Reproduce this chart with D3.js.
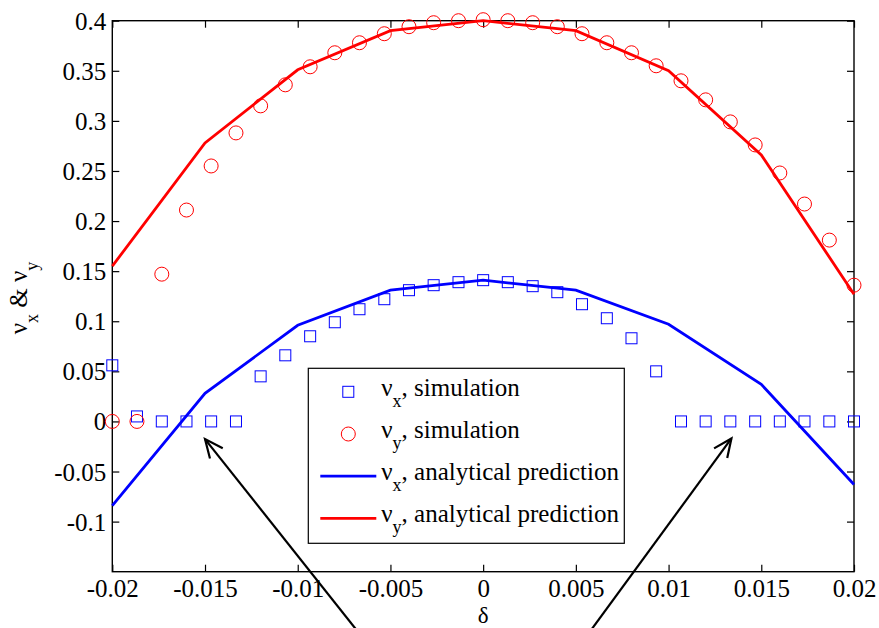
<!DOCTYPE html>
<html>
<head>
<meta charset="utf-8">
<script src="https://cdn.jsdelivr.net/npm/d3@7/dist/d3.min.js"></script>
<style>
    body { margin: 0; background: #fff; }
    text { font-family: "Liberation Serif", "Times New Roman", serif; fill: #000; }
</style>
</head>
<body>
<script>
// simulation grid (delta) and measured tune shifts
var simDelta = [-0.02, -0.01867, -0.01733, -0.016, -0.01467, -0.01333, -0.012, -0.01067,
    -0.00933, -0.008, -0.00667, -0.00533, -0.004, -0.00267, -0.00133, 0,
    0.00133, 0.00267, 0.004, 0.00533, 0.00667, 0.008, 0.00933, 0.01067,
    0.012, 0.01333, 0.01467, 0.016, 0.01733, 0.01867, 0.02];
var nuxSim = [0.056, 0.005, 0, 0, 0, 0, 0.045, 0.066, 0.085, 0.099, 0.112, 0.122, 0.131, 0.136, 0.139,
    0.141, 0.139, 0.135, 0.129, 0.117, 0.103, 0.083, 0.050, 0, 0, 0, 0, 0, 0, 0, 0];
var nuySim = [0, 0, 0.147, 0.211, 0.255, 0.288, 0.315, 0.336, 0.354, 0.368, 0.378, 0.387, 0.394, 0.398, 0.400,
    0.401, 0.400, 0.398, 0.394, 0.387, 0.378, 0.368, 0.355, 0.340, 0.321, 0.299, 0.276, 0.248, 0.217, 0.181, 0.136];

// analytical prediction
var predDelta = [-0.02, -0.015, -0.01, -0.005, 0, 0.005, 0.01, 0.015, 0.02];
var nuxPred = [-0.084, 0.028, 0.096, 0.131, 0.141, 0.131, 0.097, 0.037, -0.063];
var nuyPred = [0.155, 0.278, 0.351, 0.390, 0.400, 0.390, 0.350, 0.266, 0.127];

var xTicks = [-0.02, -0.015, -0.01, -0.005, 0, 0.005, 0.01, 0.015, 0.02];
var yTicks = [-0.1, -0.05, 0, 0.05, 0.1, 0.15, 0.2, 0.25, 0.3, 0.35, 0.4];

// annotation arrows, in data units: [tail, tip]
var arrows = [
    [[-0.00675, -0.21], [-0.015, -0.0176]],
    [[0.00575, -0.21], [0.01339, -0.0170]]
];

var legendItems = [
    { sub: "x", label: ", simulation", kind: "square", color: "#0000ff" },
    { sub: "y", label: ", simulation", kind: "circle", color: "#ff0000" },
    { sub: "x", label: ", analytical prediction", kind: "line", color: "#0000ff" },
    { sub: "y", label: ", analytical prediction", kind: "line", color: "#ff0000" }
];

var W = 879, H = 628;
var plotLeft = 112.3, plotRight = 854, plotTop = 20.7, plotBottom = 571.7;
var fontSize = "25px", subSize = "18px";

var x = d3.scaleLinear().domain([-0.02, 0.02]).range([plotLeft, plotRight]);
var y = d3.scaleLinear().domain([-0.15, 0.4]).range([plotBottom, plotTop]);
var fmt = function(d) { return String(+d.toFixed(3)); };

var svg = d3.select("body").append("svg")
    .attr("width", W)
    .attr("height", H);
svg.append("rect").attr("width", W).attr("height", H).attr("fill", "#fff");

// axes, ticks pointing inward on all four sides
var tick = 7;
var gx = svg.append("g").attr("transform", "translate(0," + plotBottom + ")")
    .call(d3.axisBottom(x).tickValues(xTicks).tickSize(-tick).tickFormat(fmt));
gx.selectAll("text").attr("y", 25.5).attr("dy", null).style("font-size", fontSize);
svg.append("g").attr("transform", "translate(0," + plotTop + ")")
    .call(d3.axisTop(x).tickValues(xTicks).tickSize(-tick).tickFormat(""));
var gy = svg.append("g").attr("transform", "translate(" + plotLeft + ",0)")
    .call(d3.axisLeft(y).tickValues(yTicks).tickSize(-tick).tickFormat(fmt));
gy.selectAll("text").attr("x", -6).attr("dy", "0.34em").style("font-size", fontSize);
svg.append("g").attr("transform", "translate(" + plotRight + ",0)")
    .call(d3.axisRight(y).tickValues(yTicks).tickSize(-tick).tickFormat(""));
svg.selectAll(".domain").remove();
svg.selectAll(".tick line").attr("stroke", "#000").attr("stroke-width", 1.2);

svg.append("rect")
    .attr("x", plotLeft).attr("y", plotTop)
    .attr("width", plotRight - plotLeft).attr("height", plotBottom - plotTop)
    .attr("fill", "none").attr("stroke", "#000").attr("stroke-width", 1.4);

// prediction lines
var line = d3.line()
    .x(function(d) { return x(d[0]); })
    .y(function(d) { return y(d[1]); });
svg.append("path")
    .datum(d3.zip(predDelta, nuxPred))
    .attr("d", line)
    .attr("fill", "none").attr("stroke", "#0000ff").attr("stroke-width", 2.8);
svg.append("path")
    .datum(d3.zip(predDelta, nuyPred))
    .attr("d", line)
    .attr("fill", "none").attr("stroke", "#ff0000").attr("stroke-width", 2.8);

// simulation markers
var sq = 11;
svg.append("g").selectAll("rect")
    .data(d3.zip(simDelta, nuxSim))
    .enter().append("rect")
    .attr("x", function(d) { return x(d[0]) - sq / 2; })
    .attr("y", function(d) { return y(d[1]) - sq / 2; })
    .attr("width", sq).attr("height", sq)
    .attr("fill", "none").attr("stroke", "#0000ff").attr("stroke-width", 1);
svg.append("g").selectAll("circle")
    .data(d3.zip(simDelta, nuySim))
    .enter().append("circle")
    .attr("cx", function(d) { return x(d[0]); })
    .attr("cy", function(d) { return y(d[1]); })
    .attr("r", 7)
    .attr("fill", "none").attr("stroke", "#ff0000").attr("stroke-width", 1);

// legend
var lg = svg.append("g").attr("transform", "translate(308.3,368.3)");
lg.append("rect")
    .attr("width", 316).attr("height", 175)
    .attr("fill", "#fff").attr("stroke", "#000").attr("stroke-width", 1.2);
legendItems.forEach(function(item, i) {
    var cy = 23.5 + i * 42.2;
    var row = lg.append("g").attr("transform", "translate(0," + cy + ")");
    if (item.kind === "square") {
        row.append("rect").attr("x", 40 - sq / 2).attr("y", -sq / 2)
            .attr("width", sq).attr("height", sq)
            .attr("fill", "none").attr("stroke", item.color).attr("stroke-width", 1);
    } else if (item.kind === "circle") {
        row.append("circle").attr("cx", 40).attr("r", 7)
            .attr("fill", "none").attr("stroke", item.color).attr("stroke-width", 1);
    } else {
        row.append("line").attr("x1", 12).attr("x2", 68)
            .attr("stroke", item.color).attr("stroke-width", 2.8);
    }
    var t = row.append("text").attr("x", 73).attr("y", 4).style("font-size", fontSize);
    t.append("tspan").text("\u03bd");
    t.append("tspan").attr("dy", 11).style("font-size", subSize).text(item.sub);
    t.append("tspan").attr("dy", -11).text(item.label);
});

// axis labels
svg.append("text")
    .attr("x", x(0)).attr("y", 622.8)
    .attr("text-anchor", "middle")
    .style("font-size", "23px")
    .text("\u03b4");
var yl = svg.append("text")
    .attr("transform", "translate(27,298) rotate(-90)")
    .attr("text-anchor", "middle")
    .style("font-size", fontSize);
yl.append("tspan").text("\u03bd");
yl.append("tspan").attr("dy", 11).style("font-size", subSize).text("x");
yl.append("tspan").attr("dy", -11).text(" & \u03bd");
yl.append("tspan").attr("dy", 11).style("font-size", subSize).text("y");

// arrows
var ga = svg.append("g").attr("stroke", "#000").attr("stroke-width", 2.2).attr("fill", "none");
arrows.forEach(function(a) {
    var x0 = x(a[0][0]), y0 = y(a[0][1]), x1 = x(a[1][0]), y1 = y(a[1][1]);
    var ang = Math.atan2(y0 - y1, x0 - x1), len = 20, spread = 0.42;
    ga.append("path").attr("d", "M" + x0 + "," + y0 + "L" + x1 + "," + y1);
    ga.append("path").attr("d",
        "M" + (x1 + len * Math.cos(ang - spread)) + "," + (y1 + len * Math.sin(ang - spread)) +
        "L" + x1 + "," + y1 +
        "L" + (x1 + len * Math.cos(ang + spread)) + "," + (y1 + len * Math.sin(ang + spread)));
});
</script>
</body>
</html>
